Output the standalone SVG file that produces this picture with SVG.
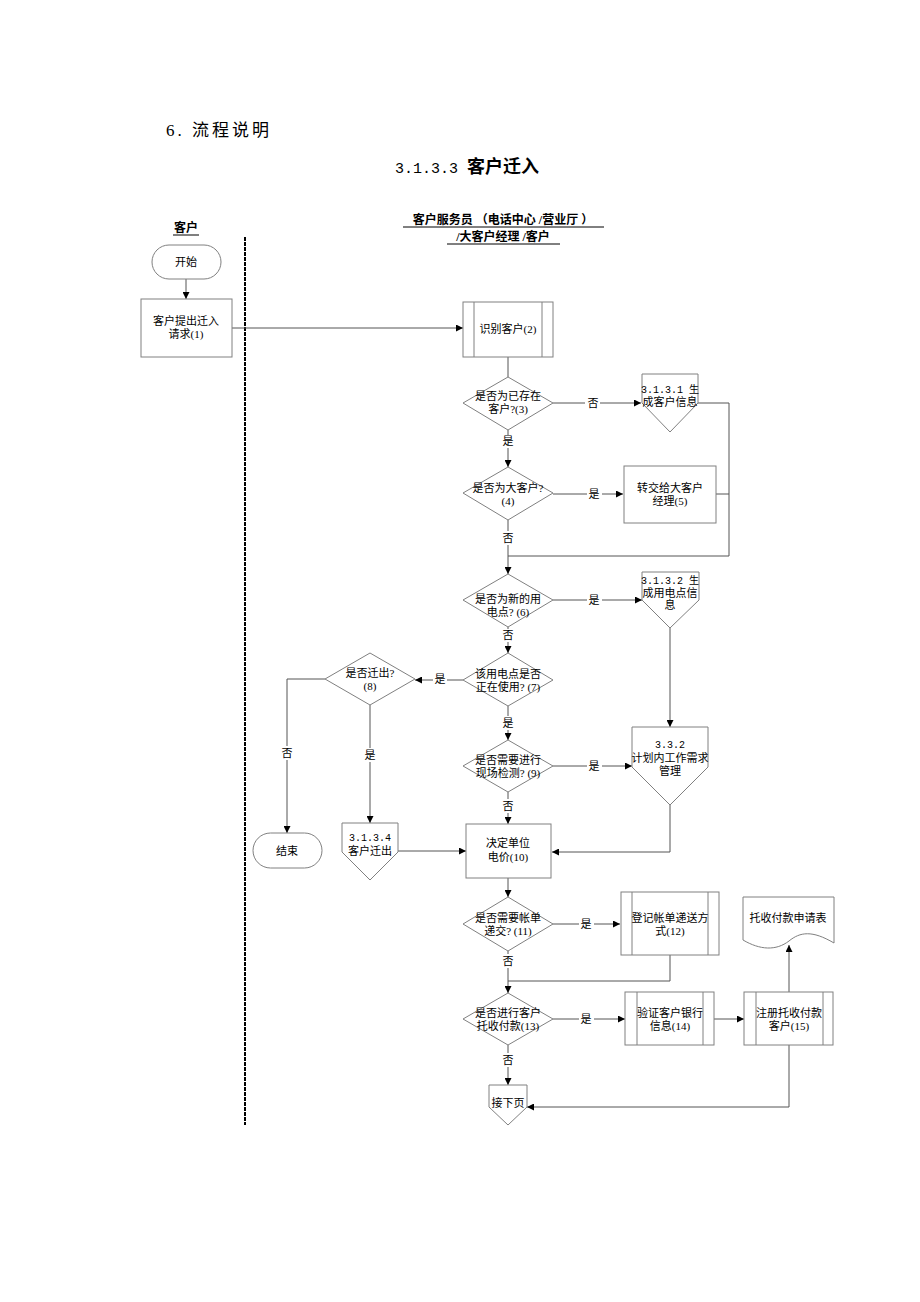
<svg xmlns="http://www.w3.org/2000/svg" width="920" height="1302" viewBox="0 0 920 1302">
<defs>
<marker id="ah" viewBox="0 0 10 10" refX="10" refY="5" markerWidth="7" markerHeight="7" markerUnits="userSpaceOnUse" orient="auto"><path d="M0,0 L10,5 L0,10 z" fill="#000"/></marker>
<style>
.s{fill:#fff;stroke:#808080;stroke-width:1}
.c{fill:none;stroke:#555;stroke-width:1}
.t{font-family:"Liberation Serif","Noto Sans CJK SC",serif;font-size:11px;fill:#000;text-anchor:middle}
.m{font-family:"Liberation Mono","Noto Sans CJK SC",monospace;font-size:10px;fill:#000;text-anchor:middle}
.h{font-family:"Liberation Serif","Noto Sans CJK SC",serif;fill:#000}
.lb{font-family:"Liberation Serif","Noto Sans CJK SC",serif;font-size:11px;fill:#000;text-anchor:middle}
</style>
</defs>
<rect width="920" height="1302" fill="#fff"/>
<text class="h" x="166" y="136" font-size="17" letter-spacing="3">6. 流程说明</text>
<text class="h" x="467" y="173" font-size="18" text-anchor="middle" xml:space="preserve"><tspan font-family="Liberation Mono, monospace" font-size="15">3.1.3.3 </tspan><tspan font-weight="bold">客户迁入</tspan></text>
<g id="lanes">
<text class="h" x="186" y="232" font-size="12" font-weight="bold" text-anchor="middle">客户</text>
<line x1="173" y1="235" x2="199" y2="235" stroke="#000" stroke-width="1"/>
<text class="h" x="503" y="224" font-size="12" font-weight="bold" text-anchor="middle" xml:space="preserve">客户服务员 （电话中心 /营业厅 ）</text>
<line x1="403" y1="227" x2="604" y2="227" stroke="#000" stroke-width="1"/>
<text class="h" x="503" y="241" font-size="12" font-weight="bold" text-anchor="middle">/大客户经理 /客户</text>
<line x1="447" y1="244" x2="560" y2="244" stroke="#000" stroke-width="1"/>
<line x1="245" y1="237" x2="245" y2="1125" stroke="#000" stroke-width="2" stroke-dasharray="4,1"/>
</g>
<g id="connectors">
<path class="c" d="M186,279 V299" marker-end="url(#ah)"/>
<path class="c" d="M232,328 H463" marker-end="url(#ah)"/>
<path class="c" d="M508,357 V377"/>
<path class="c" d="M553,403 H585 M600,403 H641" marker-end="url(#ah)"/>
<path class="c" d="M698,403 H729 V556 H508"/>
<path class="c" d="M508,430 V435 M508,448 V467" marker-end="url(#ah)"/>
<path class="c" d="M553,494 H587 M602,494 H623" marker-end="url(#ah)"/>
<path class="c" d="M716,494 H729"/>
<path class="c" d="M508,520 V531 M508,545 V574" marker-end="url(#ah)"/>
<path class="c" d="M553,600 H587 M602,600 H642" marker-end="url(#ah)"/>
<path class="c" d="M670,628 V727" marker-end="url(#ah)"/>
<path class="c" d="M508,627 V629 M508,642 V653" marker-end="url(#ah)"/>
<path class="c" d="M463,680 H447 M433,680 H415" marker-end="url(#ah)"/>
<path class="c" d="M508,706 V716 M508,730 V740" marker-end="url(#ah)"/>
<path class="c" d="M553,766 H587 M602,766 H632" marker-end="url(#ah)"/>
<path class="c" d="M670,805 V852 H552" marker-end="url(#ah)"/>
<path class="c" d="M508,792 V799 M508,813 V824" marker-end="url(#ah)"/>
<path class="c" d="M325,679 H287 V746 M287,760 V833" marker-end="url(#ah)"/>
<path class="c" d="M370,705 V748 M370,762 V823" marker-end="url(#ah)"/>
<path class="c" d="M398,851 H466" marker-end="url(#ah)"/>
<path class="c" d="M508,878 V897" marker-end="url(#ah)"/>
<path class="c" d="M553,924 H579 M594,924 H620" marker-end="url(#ah)"/>
<path class="c" d="M508,951 V954 M508,968 V993" marker-end="url(#ah)"/>
<path class="c" d="M670,955 V981 H508"/>
<path class="c" d="M553,1019 H579 M594,1019 H625" marker-end="url(#ah)"/>
<path class="c" d="M714,1019 H744" marker-end="url(#ah)"/>
<path class="c" d="M789,992 V945" marker-end="url(#ah)"/>
<path class="c" d="M508,1045 V1053 M508,1067 V1085" marker-end="url(#ah)"/>
<path class="c" d="M789,1045 V1107 H527" marker-end="url(#ah)"/>
</g>
<g id="labels">
<text class="lb" x="593" y="407">否</text>
<text class="lb" x="508" y="445">是</text>
<text class="lb" x="594" y="498">是</text>
<text class="lb" x="508" y="542">否</text>
<text class="lb" x="594" y="604">是</text>
<text class="lb" x="508" y="639">否</text>
<text class="lb" x="440" y="683">是</text>
<text class="lb" x="508" y="727">是</text>
<text class="lb" x="594" y="770">是</text>
<text class="lb" x="508" y="810">否</text>
<text class="lb" x="287" y="757">否</text>
<text class="lb" x="370" y="759">是</text>
<text class="lb" x="586" y="928">是</text>
<text class="lb" x="508" y="965">否</text>
<text class="lb" x="586" y="1023">是</text>
<text class="lb" x="508" y="1064">否</text>
</g>
<g id="n_start"><rect class="s" x="152" y="245" width="69" height="34" rx="17"/><text class="t" x="186" y="266">开始</text></g>
<g id="n1"><rect class="s" x="141" y="299" width="91" height="58"/><text class="t" x="186" y="325">客户提出迁入</text><text class="t" x="186" y="338">请求(1)</text></g>
<g id="n2"><rect class="s" x="463" y="302" width="90" height="55"/><line class="s" x1="474" y1="302" x2="474" y2="357"/><line class="s" x1="542" y1="302" x2="542" y2="357"/><text class="t" x="508" y="333">识别客户(2)</text></g>
<g id="n3"><path class="s" d="M508,377 L553,403 L508,430 L463,403 z"/><text class="t" x="508" y="400">是否为已存在</text><text class="t" x="508" y="413">客户?(3)</text></g>
<g id="n3131"><path class="s" d="M642,374 H698 V403 L670,432 L642,403 z"/><text class="m" x="670" y="393">3.1.3.1 生</text><text class="t" x="670" y="406">成客户信息</text></g>
<g id="n4"><path class="s" d="M508,467 L553,493 L508,520 L463,493 z"/><text class="t" x="508" y="492">是否为大客户?</text><text class="t" x="508" y="505">(4)</text></g>
<g id="n5"><rect class="s" x="624" y="466" width="92" height="57"/><text class="t" x="670" y="492">转交给大客户</text><text class="t" x="670" y="505">经理(5)</text></g>
<g id="n6"><path class="s" d="M508,574 L553,600 L508,627 L463,600 z"/><text class="t" x="508" y="603">是否为新的用</text><text class="t" x="508" y="616">电点? (6)</text></g>
<g id="n3132"><path class="s" d="M642,572 H699 V600 L670,628 L642,600 z"/><text class="m" x="670" y="584">3.1.3.2 生</text><text class="t" x="670" y="597">成用电点信</text><text class="t" x="670" y="609">息</text></g>
<g id="n7"><path class="s" d="M508,653 L553,680 L508,706 L463,680 z"/><text class="t" x="508" y="678">该用电点是否</text><text class="t" x="508" y="691">正在使用? (7)</text></g>
<g id="n8"><path class="s" d="M370,653 L415,679 L370,705 L325,679 z"/><text class="t" x="370" y="677">是否迁出?</text><text class="t" x="370" y="690">(8)</text></g>
<g id="n9"><path class="s" d="M508,740 L553,766 L508,792 L463,766 z"/><text class="t" x="508" y="764">是否需要进行</text><text class="t" x="508" y="777">现场检测? (9)</text></g>
<g id="n332"><path class="s" d="M632,727 H708 V767 L670,805 L632,767 z"/><text class="m" x="670" y="748">3.3.2</text><text class="t" x="670" y="762">计划内工作需求</text><text class="t" x="670" y="775">管理</text></g>
<g id="n_end"><rect class="s" x="253" y="833" width="69" height="35" rx="17.5"/><text class="t" x="287" y="855">结束</text></g>
<g id="n3134"><path class="s" d="M342,823 H398 V852 L370,880 L342,852 z"/><text class="m" x="370" y="841">3.1.3.4</text><text class="t" x="370" y="855">客户迁出</text></g>
<g id="n10"><rect class="s" x="466" y="824" width="85" height="54"/><text class="t" x="508" y="847">决定单位</text><text class="t" x="508" y="861">电价(10)</text></g>
<g id="n11"><path class="s" d="M508,897 L553,924 L508,951 L463,924 z"/><text class="t" x="508" y="922">是否需要帐单</text><text class="t" x="508" y="935">递交? (11)</text></g>
<g id="n12"><rect class="s" x="621" y="892" width="98" height="63"/><line class="s" x1="632" y1="892" x2="632" y2="955"/><line class="s" x1="708" y1="892" x2="708" y2="955"/><text class="t" x="670" y="922">登记帐单递送方</text><text class="t" x="670" y="935">式(12)</text></g>
<g id="ndoc"><path class="s" d="M743,897 H834 V943 C812,930 800,932 789,941 C776,951 760,950 743,940 z"/><text class="t" x="788" y="922">托收付款申请表</text></g>
<g id="n13"><path class="s" d="M508,993 L553,1019 L508,1045 L463,1019 z"/><text class="t" x="508" y="1017">是否进行客户</text><text class="t" x="508" y="1030">托收付款(13)</text></g>
<g id="n14"><rect class="s" x="625" y="992" width="89" height="53"/><line class="s" x1="637" y1="992" x2="637" y2="1045"/><line class="s" x1="703" y1="992" x2="703" y2="1045"/><text class="t" x="670" y="1017">验证客户银行</text><text class="t" x="670" y="1030">信息(14)</text></g>
<g id="n15"><rect class="s" x="744" y="992" width="89" height="53"/><line class="s" x1="756" y1="992" x2="756" y2="1045"/><line class="s" x1="823" y1="992" x2="823" y2="1045"/><text class="t" x="789" y="1017">注册托收付款</text><text class="t" x="789" y="1030">客户(15)</text></g>
<g id="nnext"><path class="s" d="M489,1085 H527 V1107 L508,1125 L489,1107 z"/><text class="t" x="508" y="1107">接下页</text></g>
</svg>
